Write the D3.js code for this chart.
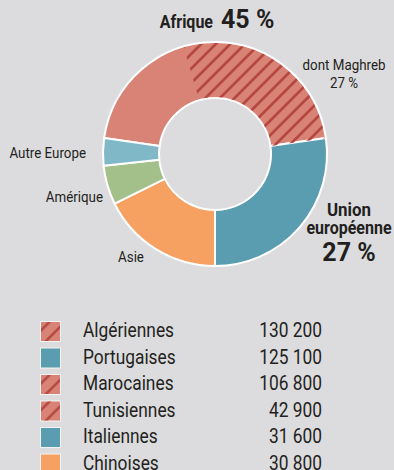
<!DOCTYPE html>
<html>
<head>
<meta charset="utf-8">
<script src="https://cdn.jsdelivr.net/npm/d3@7/dist/d3.min.js"></script>
<style>
  html, body { margin: 0; padding: 0; background: #dcdcde; }
  svg { display: block; }
  text { font-family: Roboto, "Liberation Sans", sans-serif; fill: #231f20; }
</style>
</head>
<body>
<svg id="chart" width="394" height="470"></svg>
<script>
// Répartition des étrangers par zone d'origine (en %)
const regions = ["Afrique", "Union européenne", "Asie", "Amérique", "Autre Europe"];
const regionShares = [45, 27, 17.5, 5.6, 3.9];
const regionColors = ["#d98376", "#5b9db0", "#f6a062", "#a3c08b", "#81b8c7"];

// Part du Maghreb à l'intérieur de l'Afrique (en %)
const maghrebShare = 27;

// Principales nationalités
const nationalities = ["Algériennes", "Portugaises", "Marocaines", "Tunisiennes", "Italiennes", "Chinoises"];
const nationalityCounts = [130200, 125100, 106800, 42900, 31600, 30800];
const nationalityRegion = ["Afrique", "Union européenne", "Afrique", "Afrique", "Union européenne", "Asie"];
const nationalityMaghreb = [true, false, true, true, false, false];

const svg = d3.select("#chart");
const defs = svg.append("defs");

// Texte étroit : police compressée horizontalement
const NARROW = 0.89;
function label(parent, x, y, anchor, sx = NARROW) {
  return parent.append("text")
    .attr("transform", `translate(${x},${y}) scale(${sx},1)`)
    .attr("text-anchor", anchor);
}

function hatch(id, spacing, width) {
  const p = defs.append("pattern")
    .attr("id", id)
    .attr("patternUnits", "userSpaceOnUse")
    .attr("width", spacing)
    .attr("height", spacing)
    .attr("patternTransform", "rotate(45)");
  p.append("line")
    .attr("x1", spacing / 2).attr("x2", spacing / 2)
    .attr("y1", 0).attr("y2", spacing)
    .attr("stroke", "#b2443d")
    .attr("stroke-width", width);
}
hatch("hatchDonut", 10.3, 2.6);
hatch("hatchLegend", 11, 2.4);

const color = d3.scaleOrdinal().domain(regions).range(regionColors);

// Donut
const cx = 215, cy = 154, outerR = 112, innerR = 56;
const total = d3.sum(regionShares);
const startAngle = -81.8 * Math.PI / 180;

const pie = d3.pie().sort(null).value(d => d.share)
  .startAngle(startAngle).endAngle(startAngle + 2 * Math.PI);
const arcs = pie(regions.map((r, i) => ({ region: r, share: regionShares[i] })));
const arc = d3.arc().innerRadius(innerR).outerRadius(outerR);

const g = svg.append("g").attr("transform", `translate(${cx},${cy})`);

g.selectAll("path.slice").data(arcs).join("path")
  .attr("class", "slice")
  .attr("d", arc)
  .attr("fill", d => color(d.data.region))
  .attr("stroke", "#ffffff")
  .attr("stroke-width", 2)
  .attr("stroke-linejoin", "round");

// Hachures du Maghreb, sur la fin de la part africaine
const afr = arcs[0];
const maghrebAngle = maghrebShare / total * 2 * Math.PI;
g.append("path")
  .attr("d", d3.arc().innerRadius(innerR + 1).outerRadius(outerR - 1)({
    startAngle: afr.endAngle - maghrebAngle,
    endAngle: afr.endAngle
  }))
  .attr("fill", "url(#hatchDonut)");

// Étiquettes du donut
const fmtPct = v => `${Math.round(v)} %`;

label(svg, 213, 28, "end").attr("font-weight", "bold").attr("font-size", 18).text("Afrique");
label(svg, 221, 28, "start", 1).attr("font-weight", "bold").attr("font-size", 25).text(fmtPct(regionShares[0]));

const tm = label(svg, 344, 70, "middle").attr("font-size", 15);
tm.append("tspan").attr("x", 0).text("dont Maghreb");
tm.append("tspan").attr("x", 0).attr("dy", 18).text(fmtPct(maghrebShare));

const tu = label(svg, 349, 215.5, "middle").attr("font-weight", "bold");
tu.append("tspan").attr("x", 0).attr("font-size", 19).text("Union");
tu.append("tspan").attr("x", 0).attr("dy", 18.5).attr("font-size", 18).text("européenne");
label(svg, 349, 261, "middle", 1).attr("font-weight", "bold").attr("font-size", 25).text(fmtPct(regionShares[1]));

label(svg, 86, 158, "end").attr("font-size", 15).text("Autre Europe");
label(svg, 103, 202, "end").attr("font-size", 15).text("Amérique");
label(svg, 131, 262, "middle").attr("font-size", 15).text("Asie");

// Légende
const fmtNum = v => d3.format(",")(v).replace(/,/g, " ");
const y = d3.scaleBand().domain(nationalities).range([317, 317 + 26.5 * nationalities.length]);
const leg = svg.append("g");
const rows = leg.selectAll("g.row").data(nationalities).join("g")
  .attr("class", "row")
  .attr("transform", d => `translate(0,${y(d)})`);

rows.append("rect")
  .attr("x", 40.5).attr("y", 4.5).attr("width", 20).attr("height", 20)
  .attr("fill", (d, i) => color(nationalityRegion[i]))
  .attr("stroke", "#f3f3f3").attr("stroke-width", 1);
rows.filter((d, i) => nationalityMaghreb[i]).append("rect")
  .attr("x", 41).attr("y", 5).attr("width", 19).attr("height", 19)
  .attr("fill", "url(#hatchLegend)");

rows.each(function (d, i) {
  const row = d3.select(this);
  label(row, 83, 20, "start").attr("font-size", 19.5).text(d);
  label(row, 322, 20, "end").attr("font-size", 19.5).text(fmtNum(nationalityCounts[i]));
});
</script>
</body>
</html>
